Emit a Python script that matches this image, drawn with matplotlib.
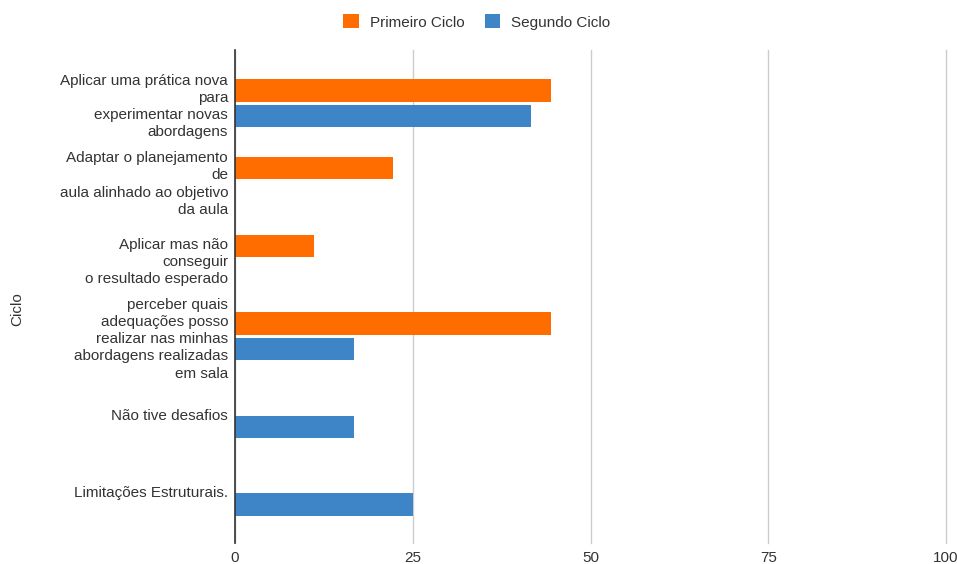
import numpy as np
import matplotlib
matplotlib.use('Agg')
import matplotlib.pyplot as plt
from matplotlib.patches import Patch

plt.rcParams['font.family'] = ['Liberation Sans', 'DejaVu Sans']

categorias = [
    'Aplicar uma prática nova\npara\nexperimentar novas\nabordagens',
    'Adaptar o planejamento\nde\naula alinhado ao objetivo\nda aula',
    'Aplicar mas não\nconseguir\no resultado esperado',
    'perceber quais\nadequações posso\nrealizar nas minhas\nabordagens realizadas\nem sala',
    'Não tive desafios',
    'Limitações Estruturais.',
]
primeiro_ciclo = [44.4, 22.2, 11.1, 44.4, 0, 0]
segundo_ciclo = [41.7, 0, 0, 16.7, 16.7, 25.0]
nomes_series = ['Primeiro Ciclo', 'Segundo Ciclo']
x_ticks = [0, 25, 50, 75, 100]

COR_LARANJA = '#ff6d01'
COR_AZUL = '#3d85c6'
COR_TEXTO = '#333333'
FONTE = 11

fig = plt.figure(figsize=(9.57, 5.64), dpi=100)
ax = fig.add_axes([235 / 957, 21 / 564, 711 / 957, 493 / 564])

y = np.arange(len(categorias))
altura = 0.29
off = 0.165
ax.barh(y - off, primeiro_ciclo, height=altura, color=COR_LARANJA, zorder=3)
ax.barh(y + off, segundo_ciclo, height=altura, color=COR_AZUL, zorder=3)

ax.set_xlim(0, 100)
ax.set_ylim(5.66, -0.686)
ax.set_xticks(x_ticks)
ax.set_xticklabels([str(t) for t in x_ticks], fontsize=FONTE, color=COR_TEXTO)
ax.set_yticks(y)
ax.set_yticklabels(categorias, fontsize=FONTE, color=COR_TEXTO, linespacing=1.28)
ax.tick_params(axis='both', length=0)
ax.tick_params(axis='y', pad=5)
ax.tick_params(axis='x', pad=6)

for s in ['top', 'right', 'bottom']:
    ax.spines[s].set_visible(False)
ax.spines['left'].set_color('#333333')
ax.spines['left'].set_linewidth(1.2)
ax.spines['left'].set_zorder(4)

ax.grid(axis='x', color='#cccccc', linewidth=1, zorder=0)
ax.set_axisbelow(True)
for linha in ax.get_xgridlines():
    linha.set_clip_on(False)

fig.text(17 / 957, 1 - 309 / 564, 'Ciclo', rotation=90, ha='center', va='center',
         fontsize=FONTE, color=COR_TEXTO)

handles = [Patch(facecolor=COR_LARANJA), Patch(facecolor=COR_AZUL)]
fig.legend(handles, nomes_series, loc='center', bbox_to_anchor=(477 / 957, 1 - 22 / 564),
           ncol=2, frameon=False, fontsize=FONTE, handlelength=1.0, handleheight=1.0,
           handletextpad=0.72, columnspacing=1.37, labelcolor=COR_TEXTO)

fig.savefig('out.png', dpi=100)
